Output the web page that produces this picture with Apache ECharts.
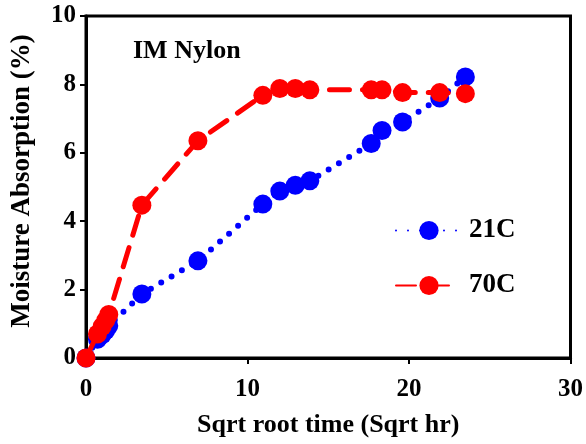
<!DOCTYPE html>
<html>
<head>
<meta charset="utf-8">
<script src="https://cdn.jsdelivr.net/npm/echarts@6/dist/echarts.min.js"></script>
<style>
  html, body { margin: 0; padding: 0; background: #fff; }
  #chart { width: 586px; height: 444px; }
</style>
</head>
<body>
<div id="chart"></div>
<script>
// Square root of exposure time (sqrt hr)
const sqrtTime = [0, 0.71, 1.0, 1.22, 1.41, 3.46, 6.93, 10.95, 12.0, 12.96, 13.86, 17.66, 18.33, 19.6, 21.9, 23.49];
// Moisture absorption (%) at 21 C
const absorb21C = [0, 0.55, 0.68, 0.8, 0.94, 1.87, 2.84, 4.5, 4.88, 5.05, 5.18, 6.27, 6.65, 6.9, 7.6, 8.22];
// Moisture absorption (%) at 70 C
const absorb70C = [0, 0.7, 0.92, 1.1, 1.27, 4.47, 6.35, 7.68, 7.88, 7.88, 7.84, 7.84, 7.84, 7.76, 7.76, 7.73];
const xTicks = [0, 10, 20, 30];
const yTicks = [0, 2, 4, 6, 8, 10];

const FONT = 'Liberation Serif';
const pairs = (ys) => sqrtTime.map((x, i) => [x, ys[i]]);

const axisCommon = {
  axisLine: { show: true, lineStyle: { color: '#000', width: 3 } },
  axisTick: { show: true, inside: false, length: 6, lineStyle: { color: '#000', width: 2 } },
  splitLine: { show: false },
  axisLabel: { color: '#000', fontFamily: FONT, fontWeight: 'bold', fontSize: 25 },
  nameTextStyle: { color: '#000', fontFamily: FONT, fontWeight: 'bold', fontSize: 26 }
};

const chart = echarts.init(document.getElementById('chart'), null, { renderer: 'canvas' });
chart.setOption({
  animation: false,
  backgroundColor: '#fff',
  grid: { left: 86, right: 14, top: 16, bottom: 86, show: true, borderColor: '#000', borderWidth: 3, backgroundColor: 'transparent' },
  title: {
    text: 'IM Nylon', left: 128, top: 33,
    textStyle: { color: '#000', fontFamily: FONT, fontWeight: 'bold', fontSize: 26 }
  },
  legend: {
    orient: 'vertical', left: 390, top: 212, itemWidth: 66, itemHeight: 24, itemGap: 28,
    textStyle: { color: '#000', fontFamily: FONT, fontWeight: 'bold', fontSize: 27, padding: [0, 0, 0, 2] },
    data: ['21C', '70C']
  },
  xAxis: Object.assign({}, axisCommon, {
    type: 'value', min: 0, max: 30, interval: 10,
    name: 'Sqrt root time (Sqrt hr)', nameLocation: 'middle', nameGap: 54,
    axisLabel: Object.assign({}, axisCommon.axisLabel, { margin: 19, formatter: (v) => xTicks.includes(v) ? String(v) : '' })
  }),
  yAxis: Object.assign({}, axisCommon, {
    type: 'value', min: 0, max: 10, interval: 2,
    name: 'Moisture Absorption (%)', nameLocation: 'middle', nameGap: 50,
    nameTextStyle: Object.assign({}, axisCommon.nameTextStyle, { fontSize: 27, padding: [0, 0, 0, 12] }),
    axisLabel: Object.assign({}, axisCommon.axisLabel, { margin: 10, formatter: (v) => yTicks.includes(v) ? String(v) : '' })
  }),
  series: [
    {
      name: '21C', type: 'line', data: pairs(absorb21C),
      symbol: 'circle', symbolSize: 19, z: 2,
      itemStyle: { color: '#0000ff' },
      lineStyle: { color: '#0000ff', width: 6, type: [0, 12], cap: 'round' }
    },
    {
      name: '70C', type: 'line', data: pairs(absorb70C),
      symbol: 'circle', symbolSize: 19, z: 3,
      itemStyle: { color: '#ff0000' },
      lineStyle: { color: '#ff0000', width: 5, type: [20, 13], cap: 'round' }
    }
  ]
});
</script>
</body>
</html>
